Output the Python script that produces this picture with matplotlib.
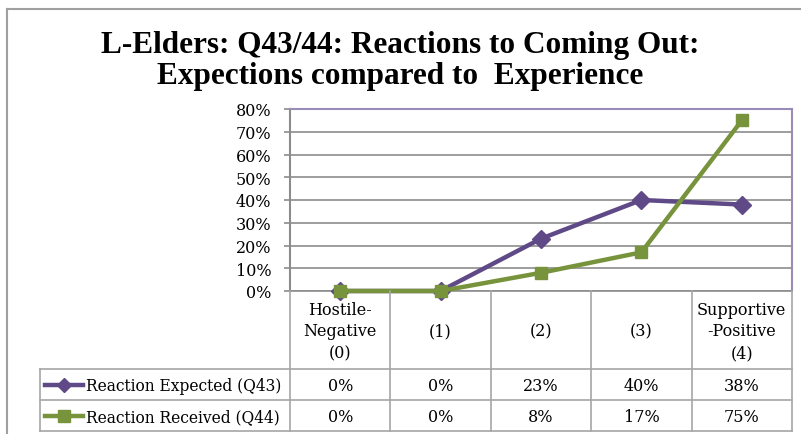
import matplotlib
matplotlib.use("Agg")
import matplotlib.pyplot as plt
from matplotlib.lines import Line2D

# ---- data ----
categories = ["Hostile-\nNegative\n(0)", "(1)", "(2)", "(3)", "Supportive\n-Positive\n(4)"]
series_names = ["Reaction Expected (Q43)", "Reaction Received (Q44)"]
expected = [0.00, 0.00, 0.23, 0.40, 0.38]
received = [0.00, 0.00, 0.08, 0.17, 0.75]
yticks = [0.0, 0.1, 0.2, 0.3, 0.4, 0.5, 0.6, 0.7, 0.8]
title = "L-Elders: Q43/44: Reactions to Coming Out:\nExpections compared to  Experience"

# ---- style ----
W, H = 801, 435
PURPLE = "#5f4a87"
GREEN = "#77933c"
GRID = "#8c8c8c"
TBL = "#a6a6a6"
serif = ["DejaVu Serif"]

fig = plt.figure(figsize=(W / 100, H / 100), dpi=100)

def fx(px):
    return px / W

def fy(py):
    return 1 - py / H

L, R, T, B = 290, 792, 110, 292
ax = fig.add_axes([fx(L), fy(B), fx(R) - fx(L), fy(T) - fy(B)])
n = len(categories)
xs = list(range(n))
ax.set_xlim(-0.5, n - 0.5)
ax.set_ylim(0, 0.8)
ax.set_yticks(yticks)
ax.set_yticklabels([f"{int(round(v*100))}%" for v in yticks], family=serif, fontsize=11.5)
ax.set_xticks([])
for v in yticks:
    ax.axhline(v, color=GRID, lw=1.2, zorder=1)
ax.tick_params(axis="y", length=4.5, width=1.2, color=GRID, pad=9)
for s in ["top", "right"]:
    ax.spines[s].set_color("#9a8cb8")
    ax.spines[s].set_linewidth(1.5)
ax.spines["left"].set_color(GRID)
ax.spines["left"].set_linewidth(1.5)
ax.spines["bottom"].set_color(GRID)
ax.spines["bottom"].set_linewidth(1.2)

ax.plot(xs, expected, color=PURPLE, lw=3.2, marker="D", ms=9, zorder=3, clip_on=False)
ax.plot(xs, received, color=GREEN, lw=3.2, marker="s", ms=9, zorder=4, clip_on=False)

# ---- data table ----
row_y = [292, 370, 401, 432]
legend_left = 40

def xpix(xd):
    disp = ax.transData.transform((xd, 0))
    return fig.transFigure.inverted().transform(disp)[0] * W

bounds = [xpix(i - 0.5) for i in range(n + 1)]
lines = []
for i, b in enumerate(bounds):
    lines.append(Line2D([fx(b), fx(b)], [fy(row_y[0]), fy(row_y[3])]))
lines.append(Line2D([fx(legend_left), fx(legend_left)], [fy(row_y[1]), fy(row_y[3])]))
lines.append(Line2D([fx(legend_left), fx(bounds[-1])], [fy(row_y[1]), fy(row_y[1])]))
lines.append(Line2D([fx(legend_left), fx(bounds[-1])], [fy(row_y[2]), fy(row_y[2])]))
lines.append(Line2D([fx(legend_left), fx(bounds[-1])], [fy(row_y[3]), fy(row_y[3])]))
for ln in lines:
    ln.set_color(TBL)
    ln.set_linewidth(1.2)
    fig.add_artist(ln)

for i, c in enumerate(categories):
    fig.text(fx(xpix(i)), fy((row_y[0] + row_y[1]) / 2 + 1), c, ha="center", va="center",
             family=serif, fontsize=11.5, linespacing=1.38)

for r, (name, vals, col, mk, ms) in enumerate([
        (series_names[0], expected, PURPLE, "D", 7),
        (series_names[1], received, GREEN, "s", 8)]):
    yc = (row_y[r + 1] + row_y[r + 2]) / 2
    fig.add_artist(Line2D([fx(45), fx(83)], [fy(yc), fy(yc)], color=col, lw=3.2))
    fig.add_artist(Line2D([fx(64)], [fy(yc)], color=col, marker=mk, ms=ms, lw=0))
    fig.text(fx(86), fy(yc + 1), name, ha="left", va="center", family=serif, fontsize=11.2)
    for i, v in enumerate(vals):
        fig.text(fx(xpix(i)), fy(yc + 1), f"{int(round(v*100))}%", ha="center", va="center",
                 family=serif, fontsize=11.5)

# ---- outer frame ----
fig.add_artist(Line2D([fx(7), fx(7)], [fy(10), fy(435)], color="#a0a0a0", lw=1.5))
fig.add_artist(Line2D([fx(7), fx(801)], [fy(10), fy(10)], color="#a0a0a0", lw=1.5))

fig.text(fx(400), fy(61), title, ha="center", va="center", family=["Liberation Serif"],
         fontweight="bold", fontsize=22.5, linespacing=1.08)

fig.savefig("out.png", dpi=100)
